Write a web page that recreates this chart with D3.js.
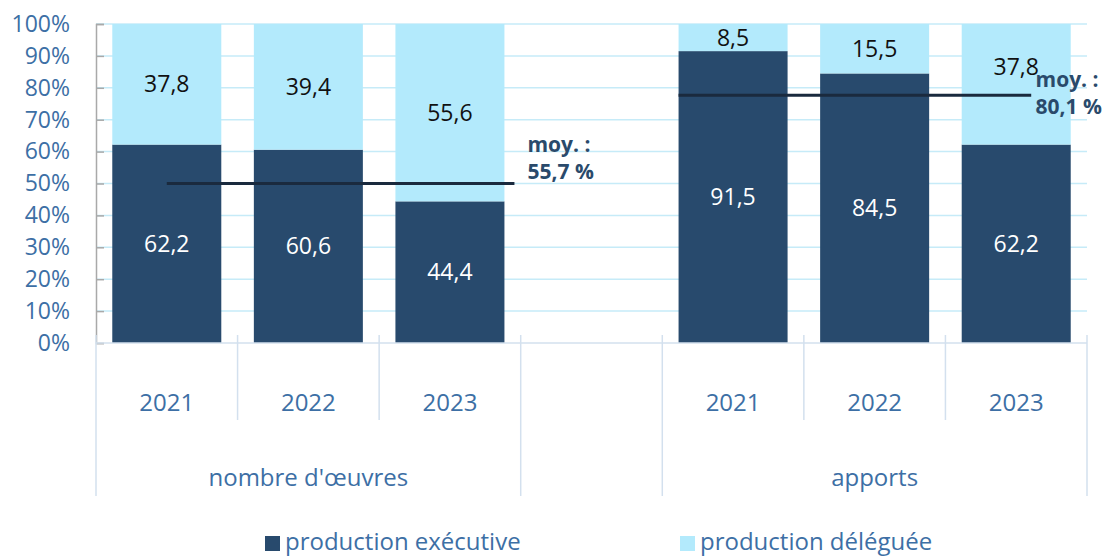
<!DOCTYPE html>
<html>
<head>
<meta charset="utf-8">
<script src="https://d3js.org/d3.v7.min.js"></script>
<style>
  body { margin: 0; background: #fff; }
  svg { font-family: "Open Sans", "Noto Sans", sans-serif; }
</style>
</head>
<body>
<svg id="chart" width="1103" height="556"></svg>
<script>
// données
const groups = ["nombre d'œuvres", "apports"];
const years = ["2021", "2022", "2023"];
const executive = [[62.2, 60.6, 44.4], [91.5, 84.5, 62.2]];
const delegated = [[37.8, 39.4, 55.6], [8.5, 15.5, 37.8]];
const avgLevel = [50, 77.7];          // hauteur où la ligne est tracée
const avgLabel = ["55,7 %", "80,1 %"];
const seriesNames = ["production exécutive", "production déléguée"];
const yTicks = [0, 10, 20, 30, 40, 50, 60, 70, 80, 90, 100];

const colExec = "#284a6d", colDeleg = "#b3eafc";
const textBlue = "#3d6fa5";

const svg = d3.select("#chart");
const mLeft = 96, mRight = 1087, mTop = 24, mBottom = 343;

// 7 emplacements : 3 années, un vide, 3 années
const slots = ["0-0", "0-1", "0-2", "gap", "1-0", "1-1", "1-2"];
const x = d3.scaleBand(slots, [mLeft, mRight]).paddingInner(0.23).paddingOuter(0.115);
const y = d3.scaleLinear([0, 100], [mBottom, mTop]);
const bw = x.bandwidth();
const fmt = v => d3.format(".1f")(v).replace(".", ",");

// grille
svg.append("g").selectAll("line").data(yTicks.slice(1)).join("line")
  .attr("x1", mLeft).attr("x2", mRight)
  .attr("y1", d => y(d)).attr("y2", d => y(d))
  .attr("stroke", "#c6ebf8").attr("stroke-width", 1.5);

// axe y
const yAxis = svg.append("g").attr("transform", `translate(${mLeft},0)`)
  .call(d3.axisLeft(y).tickValues(yTicks).tickSize(-8).tickPadding(26).tickFormat(d => d + "%"));
yAxis.select(".domain").attr("stroke", "#a9a9a9").attr("stroke-width", 1.5);
yAxis.selectAll(".tick line").attr("stroke", "#a9a9a9").attr("stroke-width", 1.5);
yAxis.selectAll(".tick text").attr("fill", textBlue).attr("font-size", 23)
  .attr("font-family", "Open Sans");

// barres
const bars = [];
groups.forEach((g, gi) => years.forEach((yr, yi) => {
  bars.push({ slot: gi + "-" + yi, gi, exec: executive[gi][yi], deleg: delegated[gi][yi] });
}));

const bg = svg.append("g");
bg.selectAll("rect.exec").data(bars).join("rect")
  .attr("x", d => x(d.slot)).attr("width", bw)
  .attr("y", d => y(d.exec)).attr("height", d => y(0) - y(d.exec))
  .attr("fill", colExec);
bg.selectAll("rect.deleg").data(bars).join("rect")
  .attr("x", d => x(d.slot)).attr("width", bw)
  .attr("y", d => y(100)).attr("height", d => y(d.exec) - y(100))
  .attr("fill", colDeleg);

// étiquettes
bg.selectAll("text.exec").data(bars).join("text")
  .attr("x", d => x(d.slot) + bw / 2)
  .attr("y", d => y(d.exec / 2))
  .attr("dy", "0.35em").attr("text-anchor", "middle")
  .attr("font-size", 23).attr("fill", "#fff")
  .text(d => fmt(d.exec));
bg.selectAll("text.deleg").data(bars).join("text")
  .attr("x", d => x(d.slot) + bw / 2)
  .attr("y", d => {
    let c = y(d.exec + d.deleg / 2);
    const line = y(avgLevel[d.gi]);
    if (Math.abs(c - line) < 15) c = line - 28;
    return c;
  })
  .attr("dy", "0.35em").attr("text-anchor", "middle")
  .attr("font-size", 23).attr("fill", "#111")
  .text(d => fmt(d.deleg));

// axe du bas
svg.append("line").attr("x1", mLeft).attr("x2", mRight)
  .attr("y1", mBottom).attr("y2", mBottom)
  .attr("stroke", "#d3e0ee").attr("stroke-width", 1.5);

const step = x.step();
const dividers = [];
for (let i = 0; i <= 7; i++) {
  const xx = mLeft + i * step;
  if (i === 0 || i === 3 || i === 4 || i === 7) dividers.push({ x: xx, y2: 496 });
  else dividers.push({ x: xx, y2: 420 });
}
svg.append("g").selectAll("line").data(dividers).join("line")
  .attr("x1", d => d.x).attr("x2", d => d.x)
  .attr("y1", 335).attr("y2", d => d.y2)
  .attr("stroke", "#d3e0ee").attr("stroke-width", 1.5);

svg.append("g").selectAll("text").data(bars).join("text")
  .attr("x", d => x(d.slot) + bw / 2).attr("y", 403)
  .attr("dy", "0.35em").attr("text-anchor", "middle")
  .attr("font-size", 24).attr("fill", textBlue)
  .text(d => years[+d.slot.split("-")[1]]);

svg.append("g").selectAll("text").data(groups).join("text")
  .attr("x", (d, i) => (x(i + "-0") + x(i + "-2") + bw) / 2).attr("y", 478)
  .attr("dy", "0.35em").attr("text-anchor", "middle")
  .attr("font-size", 24).attr("fill", textBlue)
  .text(d => d);

// lignes de moyenne
const avgLines = [
  { x1: x("0-0") + bw / 2, x2: x("0-2") + bw + 10, dy: -39 },
  { x1: x("1-0"), x2: x("1-2") + bw / 2 + 15, dy: -15 }
];
avgLines.forEach((l, i) => {
  svg.append("line")
    .attr("x1", l.x1).attr("x2", l.x2)
    .attr("y1", y(avgLevel[i])).attr("y2", y(avgLevel[i]))
    .attr("stroke", "#1a2a3e").attr("stroke-width", 3);
  const t = svg.append("text")
    .attr("font-size", 21).attr("font-weight", "bold").attr("fill", "#2a4a6b");
  t.append("tspan").attr("x", 0).attr("y", y(avgLevel[i]) + l.dy).attr("dy", "0.35em").text("moy. :");
  t.append("tspan").attr("x", 0).attr("y", y(avgLevel[i]) + l.dy + 27).attr("dy", "0.35em").text(avgLabel[i]);
  const w = t.node().getBBox().width;
  t.attr("transform", `translate(${Math.min(l.x2 + 13, 1102 - w)},0)`);
});

// légende
const lg = svg.append("g");
const legX = [265, 680];
seriesNames.forEach((s, i) => {
  lg.append("rect").attr("x", legX[i]).attr("y", 536).attr("width", 15).attr("height", 15)
    .attr("fill", i === 0 ? colExec : colDeleg);
  lg.append("text").attr("x", legX[i] + 20).attr("y", 542).attr("dy", "0.35em")
    .attr("font-size", 24).attr("fill", textBlue).text(s);
});
</script>
</body>
</html>
